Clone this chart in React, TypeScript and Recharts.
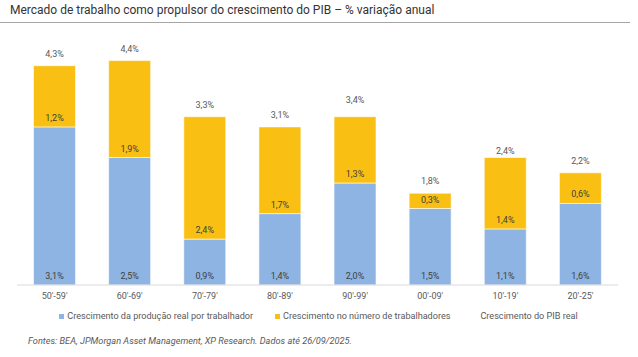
import React from 'react';
import { ComposedChart, Bar, Line, XAxis, YAxis, Legend, LabelList } from 'recharts';

const decades = ["50'-59'", "60'-69'", "70'-79'", "80'-89'", "90'-99'", "00'-09'", "10'-19'", "20'-25'"];
const productivity = [3.1, 2.5, 0.9, 1.4, 2.0, 1.5, 1.1, 1.6];
const workers = [1.2, 1.9, 2.4, 1.7, 1.3, 0.3, 1.4, 0.6];
const gdp = [4.3, 4.4, 3.3, 3.1, 3.4, 1.8, 2.4, 2.2];

const BLUE = '#8EB4E3';
const YELLOW = '#F9C013';
const FONT = 'Roboto, "Noto Sans", sans-serif';

const data = decades.map((d, i) => ({
  name: d,
  prod: productivity[i],
  work: workers[i],
  gdp: gdp[i],
}));

const fmt = (v: any) => `${Number(v).toFixed(1).replace('.', ',')}%`;

function LegendBox() {
  const items = [
    { label: 'Crescimento da produção real por trabalhador', color: BLUE },
    { label: 'Crescimento no número de trabalhadores', color: YELLOW },
    { label: 'Crescimento do PIB real', color: 'transparent' },
  ];
  return (
    <div style={{ display: 'flex', justifyContent: 'center', gap: 22, fontFamily: FONT, fontSize: 9.1, color: '#595959', paddingTop: 6, paddingLeft: 2 }}>
      {items.map((it) => (
        <div key={it.label} style={{ display: 'flex', alignItems: 'center', gap: 3 }}>
          <div style={{ width: 5, height: 5, background: it.color }} />
          <span>{it.label}</span>
        </div>
      ))}
    </div>
  );
}

export default function App() {
  return (
    <div style={{ position: 'absolute', left: 0, top: 0, width: 638, height: 357, background: '#fff', fontFamily: FONT }}>
      <div style={{ position: 'absolute', left: 10, top: 3, fontSize: 12, color: '#333' }}>
        Mercado de trabalho como propulsor do crescimento do PIB – % variação anual
      </div>
      <div style={{ position: 'absolute', left: 0, top: 22, width: 630, height: 1, background: '#a6a6a6' }} />
      <ComposedChart
        width={638}
        height={330}
        data={data}
        margin={{ top: 30, right: 20, left: 17, bottom: 0 }}
        barCategoryGap="22%"
        style={{ position: 'absolute', left: 0, top: 0 }}
      >
        <XAxis
          dataKey="name"
          axisLine={{ stroke: '#d9d9d9' }}
          tickLine={false}
          height={20}
          tick={{ fontSize: 9, fill: '#595959', fontFamily: FONT }}
        />
        <YAxis hide domain={[0, 5]} />
        <Legend verticalAlign="bottom" height={25} content={() => <LegendBox />} />
        <Bar dataKey="prod" stackId="a" fill={BLUE} stroke="#fff" strokeWidth={0.6} isAnimationActive={false}>
          <LabelList dataKey="prod" position="insideBottom" offset={6} formatter={fmt} style={{ fontSize: 9, fill: '#404040', fontFamily: FONT }} />
        </Bar>
        <Bar dataKey="work" stackId="a" fill={YELLOW} stroke="#fff" strokeWidth={0.6} isAnimationActive={false}>
          <LabelList dataKey="work" position="insideBottom" offset={6} formatter={fmt} style={{ fontSize: 9, fill: '#404040', fontFamily: FONT }} />
        </Bar>
        <Line dataKey="gdp" stroke="none" dot={false} activeDot={false} isAnimationActive={false}>
          <LabelList dataKey="gdp" position="top" offset={9} formatter={fmt} style={{ fontSize: 9, fill: '#595959', fontFamily: FONT }} />
        </Line>
      </ComposedChart>
      <div style={{ position: 'absolute', left: 28, top: 335, fontSize: 9.2, fontStyle: 'italic', color: '#595959' }}>
        Fontes: BEA, JPMorgan Asset Management, XP Research. Dados até 26/09/2025.
      </div>
    </div>
  );
}
